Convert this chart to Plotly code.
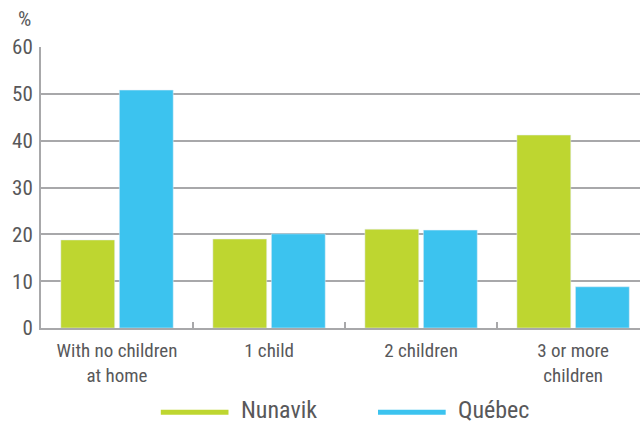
import plotly.graph_objects as go

categories = ["With no children<br>at home", "1 child", "2 children", "3 or more<br>children"]
nunavik = [18.8, 19.0, 21.1, 41.2]
quebec = [50.8, 20.1, 20.9, 8.8]
series_names = ["Nunavik", "Québec"]
y_ticks = [0, 10, 20, 30, 40, 50, 60]

green = "#bed630"
blue = "#3cc3ef"
grey = "#a8a8aa"
text_grey = "#58585a"
font = "Roboto Condensed, DejaVu Sans Condensed, sans-serif"

fig = go.Figure()
fig.add_trace(go.Bar(x=categories, y=nunavik, name=series_names[0], marker_color=green))
fig.add_trace(go.Bar(x=categories, y=quebec, name=series_names[1], marker_color=blue))

fig.update_layout(
    width=640, height=424,
    margin=dict(l=41, r=0, t=47, b=96),
    barmode="group", bargap=0.23, bargroupgap=0.08,
    plot_bgcolor="white", paper_bgcolor="white",
    showlegend=False,
    font=dict(family=font, color=text_grey, size=19),
)
fig.update_xaxes(
    range=[-0.5, 3.44], automargin=False,
    showline=True, linecolor=grey, linewidth=2,
    ticks="inside", tickson="boundaries", ticklen=6, tickcolor=grey, tickwidth=1.5,
    ticklabelstandoff=4,
    tickfont=dict(size=19, color=text_grey),
)
fig.update_yaxes(
    range=[0, 60], tickvals=y_ticks, automargin=False,
    showgrid=True, gridcolor=grey, gridwidth=2,
    showline=True, linecolor=grey, linewidth=2,
    zeroline=False, ticks="", ticklabelstandoff=2,
    tickfont=dict(size=21, color=text_grey),
)

fig.add_annotation(text="%", xref="paper", yref="paper", x=-0.013, y=1.0, yshift=28,
                   showarrow=False, xanchor="right", yanchor="middle",
                   font=dict(size=21, color=text_grey))

# legend drawn by hand to get the long line keys
legend_items = [(series_names[0], green, 0.200), (series_names[1], blue, 0.5626)]
for name, color, x0 in legend_items:
    fig.add_shape(type="line", xref="paper", yref="paper",
                  x0=x0, x1=x0 + 0.113, y0=-0.30, y1=-0.30,
                  line=dict(color=color, width=5))
    fig.add_annotation(text=name, xref="paper", yref="paper", x=x0 + 0.131, y=-0.30,
                       yshift=2, showarrow=False, xanchor="left", yanchor="middle",
                       font=dict(size=24, color=text_grey))

fig.write_html("out.html", config={"displayModeBar": False},
               post_script="document.body.style.margin='0';")
